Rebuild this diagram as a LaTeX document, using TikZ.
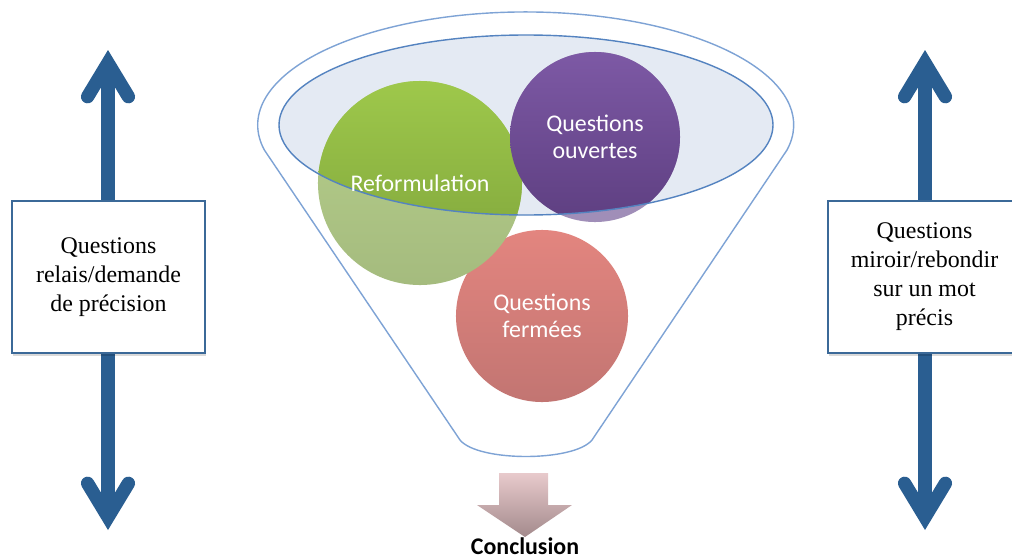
\documentclass[tikz,border=0pt]{standalone}
\usepackage{fontspec}
\setmainfont{Liberation Serif}
\newfontfamily\calfont{Carlito}
\usetikzlibrary{positioning,arrows.meta,shadows}

\definecolor{arrowblue}{HTML}{2A5E91}
\definecolor{boxblue}{HTML}{3B6998}
\definecolor{funnelblue}{HTML}{7EA3D5}
\definecolor{ellline}{HTML}{5483C0}
\definecolor{ellfill}{HTML}{E4EAF3}
\definecolor{greentop}{HTML}{9EC84B}
\definecolor{greenbot}{HTML}{7DA23A}
\definecolor{greenlite}{HTML}{B7D08C}
\definecolor{purpletop}{HTML}{7D59A5}
\definecolor{purplebot}{HTML}{5E3F81}
\definecolor{purplelite}{HTML}{A08EB8}
\definecolor{redtop}{HTML}{E3857F}
\definecolor{redbot}{HTML}{C27572}
\definecolor{conctop}{HTML}{E8CACC}
\definecolor{concbot}{HTML}{A38A8C}

\begin{document}
\begin{tikzpicture}[x=0.025cm, y=-0.025cm,
    dblarrow/.style={draw=arrowblue, line width=9.5pt,
        >={Straight Barb[length=24pt, width=29pt, line cap=round, line join=miter]}, <->},
    infobox/.style={draw=boxblue, line width=0.8pt, fill=white, align=center,
        minimum width=4.825cm, minimum height=3.8cm,
        font=\fontsize{17}{20.6}\selectfont,
        drop shadow={shadow xshift=1pt, shadow yshift=-2pt, fill=black, opacity=0.15}},
    bubble/.style={circle, minimum size=#1, inner sep=0pt},
    bubtext/.style={text=white, align=center, font=\calfont\fontsize{17}{19.2}\selectfont},
    funnel/.style={draw=funnelblue, line width=1pt}]

    \useasboundingbox (0,0) rectangle (1012,559);

    % Fleches
    \coordinate (ltop) at (108,50);
    \coordinate (lbot) at (108,530);
    \coordinate (rtop) at (925,50);
    \coordinate (rbot) at (925,530);
    \draw[dblarrow] (ltop) -- (lbot);
    \draw[dblarrow] (rtop) -- (rbot);
    \node[infobox] (relais) at (108.5,277) {Questions\\relais/demande\\de précision};
    \node[infobox] (miroir) at (924.5,277) {Questions\\miroir/rebondir\\sur un mot\\précis};

    % Entonnoir
    \draw[funnel, fill=white] (787,150)
        arc[start angle=12.8, end angle=-192.8, x radius=268, y radius=113]
        -- (460,440) .. controls (478,462) and (574,462) .. (592,440) -- cycle;
    \fill[ellfill] (526,125) ellipse[x radius=247, y radius=90];

    % Bulles
    \node[bubble=4.3cm, top color=redtop, bottom color=redbot] (ferme) at (542,316) {};
    \node[bubble=5.1cm, top color=greenlite, bottom color=greenlite!90!black] (reform) at (420,183) {};
    \node[bubble=4.25cm, top color=purplelite, bottom color=purplelite] (ouvert) at (595,137) {};
    \begin{scope}
        \clip (526,125) ellipse[x radius=247, y radius=90];
        \shade[top color=greentop, bottom color=greenbot] (reform.center) circle[radius=102];
        \shade[top color=purpletop, bottom color=purplebot] (ouvert.center) circle[radius=85];
    \end{scope}
    \draw[draw=ellline, line width=1pt] (526,125) ellipse[x radius=247, y radius=90];

    \node[bubtext] at (reform) {Reformulation};
    \node[bubtext] at (ouvert) {Questions\\ouvertes};
    \node[bubtext] at (ferme) {Questions\\fermées};

    % Conclusion
    \shade[top color=conctop, bottom color=concbot] (499,473) -- (548,473) -- (548,505)
        -- (572,505) -- (525,537) -- (477,505) -- (499,505) -- cycle;
    \coordinate (conctip) at (525,537);
    \node[below=0pt of conctip, inner sep=0pt,
          font=\calfont\bfseries\fontsize{17}{20}\selectfont] (concl) {Conclusion};

\end{tikzpicture}
\end{document}
